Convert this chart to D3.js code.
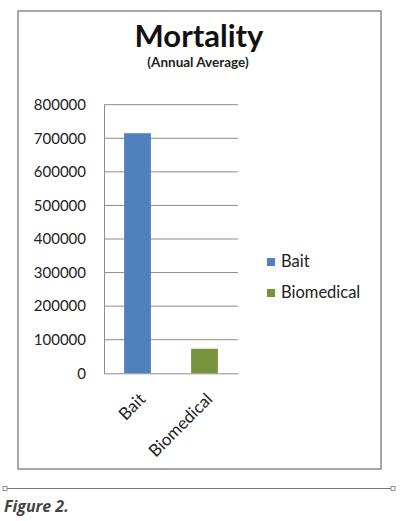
<!DOCTYPE html>
<html><head><meta charset="utf-8">
<script src="https://cdn.jsdelivr.net/npm/d3@7"></script>
<style>body{margin:0;background:#fff}svg{display:block}</style>
</head><body>
<script>
const categories = ["Bait", "Biomedical"];
const values = [715000, 73000];
const colors = ["#4F81BD", "#77933C"];
const yTicks = [0, 100000, 200000, 300000, 400000, 500000, 600000, 700000, 800000];
const title = "Mortality";
const subtitle = "(Annual Average)";
const caption = "Figure 2.";

const W = 400, H = 521;
const svg = d3.select("body").append("svg").attr("width", W).attr("height", H);
const font = "Lato, 'Open Sans', sans-serif";

// outer frame
svg.append("rect").attr("x", 18).attr("y", 11).attr("width", 363).attr("height", 458)
  .attr("fill", "#fff").attr("stroke", "#8a8a8a").attr("stroke-width", 1.5);

svg.append("text").attr("x", 199).attr("y", 46.5).attr("text-anchor", "middle")
  .attr("font-family", font).attr("font-weight", "bold").attr("font-size", 31)
  .attr("fill", "#111").text(title);
svg.append("text").attr("x", 198).attr("y", 67).attr("text-anchor", "middle")
  .attr("font-family", font).attr("font-weight", "bold").attr("font-size", 13.5)
  .attr("fill", "#222").text(subtitle);

const plot = {left: 104, right: 238, top: 104.7, bottom: 373.3};
const y = d3.scaleLinear().domain([0, 800000]).range([plot.bottom, plot.top]);
const x = d3.scaleBand().domain(categories).range([plot.left, plot.right]).paddingInner(0.6).paddingOuter(0.3);

// gridlines
svg.append("g").selectAll("line").data(yTicks.filter(d => d > 0)).join("line")
  .attr("x1", plot.left).attr("x2", plot.right)
  .attr("y1", d => y(d)).attr("y2", d => y(d))
  .attr("stroke", "#8c8c8c").attr("stroke-width", 1);

// y axis
const yAxis = d3.axisLeft(y).tickValues(yTicks).tickSize(0).tickPadding(18).tickFormat(d3.format("d"));
const gy = svg.append("g").attr("transform", `translate(${plot.left},0)`).call(yAxis);
gy.select(".domain").attr("stroke", "#8c8c8c");
gy.selectAll("text").attr("font-family", font).attr("font-size", 15).attr("fill", "#222");

// bars
svg.append("g").selectAll("rect").data(values).join("rect")
  .attr("x", (d, i) => x(categories[i]))
  .attr("width", x.bandwidth())
  .attr("y", d => y(d))
  .attr("height", d => plot.bottom - y(d))
  .attr("fill", (d, i) => colors[i]);

// x axis
const xAxis = d3.axisBottom(x).tickSize(0).tickPadding(10);
const gx = svg.append("g").attr("transform", `translate(0,${plot.bottom})`).call(xAxis);
gx.select(".domain").attr("stroke", "#8c8c8c");
gx.selectAll("text").attr("font-family", font).attr("font-size", 17).attr("fill", "#222")
  .attr("text-anchor", "end").attr("dy", null).attr("y", 0)
  .attr("transform", "translate(9,27) rotate(-45)");

// legend
const lg = svg.append("g").selectAll("g").data(categories).join("g")
  .attr("transform", (d, i) => `translate(267,${258 + i * 31})`);
lg.append("rect").attr("width", 8).attr("height", 8).attr("fill", (d, i) => colors[i]);
lg.append("text").attr("x", 14).attr("y", 9).attr("font-family", font).attr("font-size", 16.5)
  .attr("fill", "#222").text(d => d);

// separator line with handles
svg.append("line").attr("x1", 5).attr("x2", 393).attr("y1", 488.5).attr("y2", 488.5)
  .attr("stroke", "#777").attr("stroke-width", 1);
[5, 393].forEach(cx => svg.append("rect").attr("x", cx - 2).attr("y", 486.5).attr("width", 4).attr("height", 4)
  .attr("fill", "#fff").attr("stroke", "#777").attr("stroke-width", 0.8));

svg.append("text").attr("x", 4).attr("y", 512).attr("font-family", "'Open Sans', sans-serif")
  .attr("font-weight", "bold").attr("font-style", "italic").attr("font-size", 16)
  .attr("fill", "#444").text(caption);
</script>
</body></html>
